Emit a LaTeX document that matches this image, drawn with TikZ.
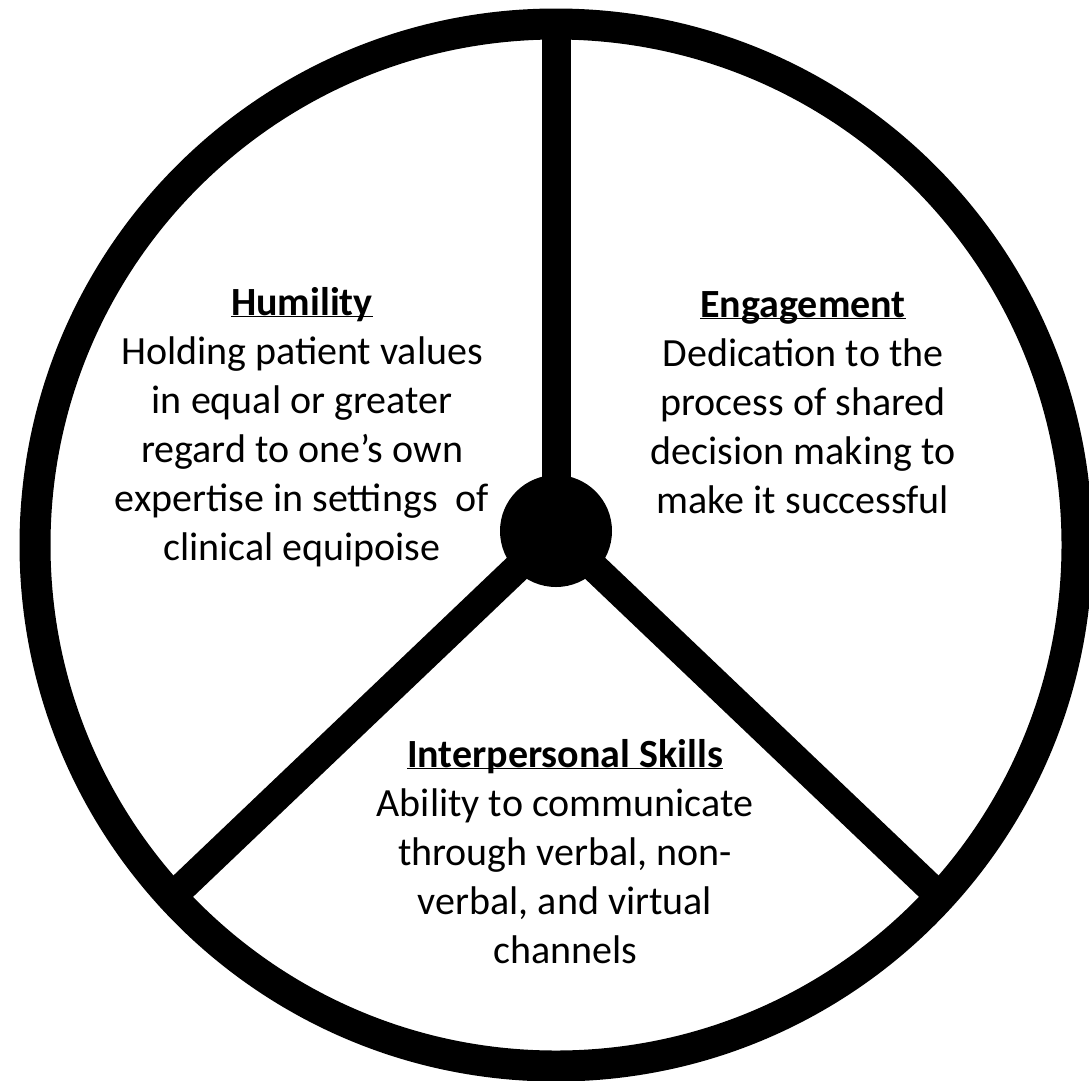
\documentclass[tikz,border=0pt]{standalone}
\usepackage{fontspec}
\setmainfont{Carlito}
\usetikzlibrary{positioning}

\newcommand{\ultitle}[1]{\textbf{\underline{\smash{#1}}}}

\begin{document}
\begin{tikzpicture}[
    x=1pt, y=-1pt,
    font=\fontsize{40}{49}\selectfont,
    rim/.style={draw=black, line width=31pt},
    spoke/.style={draw=black, line width=29pt},
    hubdot/.style={circle, fill=black, inner sep=0pt, minimum size=112pt},
    segtext/.style={align=center, anchor=base, inner sep=0pt, text=black}
]
\useasboundingbox (0,0) rectangle (1089,1080);

% Wheel rim and hub
\path[rim] (556,545) circle (521);
\node[hubdot] (hub) at (556,531) {};

% Rim points where the three spokes end
\coordinate (rimtop) at (556,28);
\coordinate (rimleft) at (175,894);
\coordinate (rimright) at (937,894);

% Spokes dividing the wheel into three segments
\draw[spoke] (hub.center) -- (rimtop);
\draw[spoke] (hub.center) -- (rimleft);
\draw[spoke] (hub.center) -- (rimright);

% Segment texts (anchored at the baseline of the last line)
\node[segtext] (humility) at (302,560)
    {\ultitle{Humility}\\Holding patient values\\in equal or greater\\
     regard to one’s own\\expertise in settings\ \ of\\clinical equipoise};
\node[segtext] (engage) at (803,513)
    {\ultitle{Engagement}\\Dedication to the\\process of shared\\
     decision making to\\make it successful};
\node[segtext] (skills) at (565,963)
    {\ultitle{Interpersonal Skills}\\Ability to communicate\\
     through verbal, non-\\verbal, and virtual\\channels};

\end{tikzpicture}
\end{document}
